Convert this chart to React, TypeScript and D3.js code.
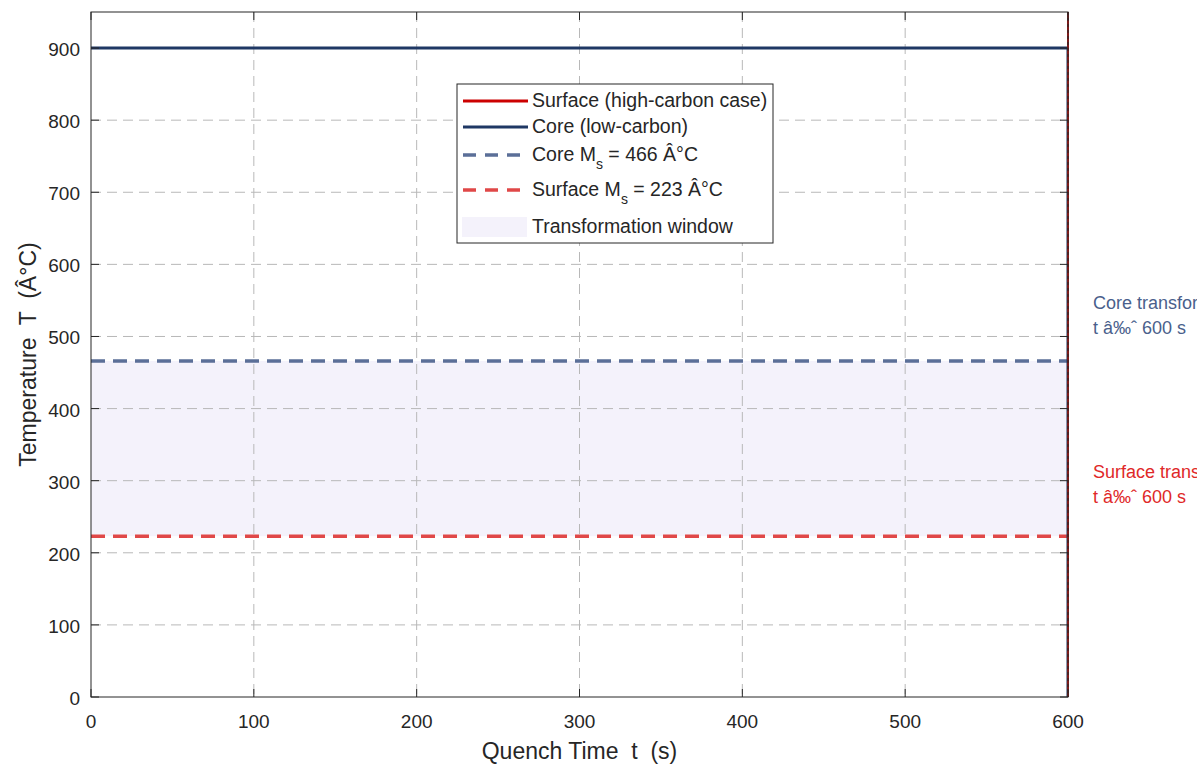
import React from "react";
import * as d3 from "d3";

const timeDomain = [0, 600];
const tempDomain = [0, 950];
const xTicks = [0, 100, 200, 300, 400, 500, 600];
const yTicks = [0, 100, 200, 300, 400, 500, 600, 700, 800, 900];

const surfaceT = [0, 600, 600, 600];
const surfaceTemp = [900, 900, 950, 0];
const coreT = [0, 600, 600];
const coreTemp = [900, 900, 0];

const coreMs = 466;
const surfaceMs = 223;

const legendLabels = [
  "Surface (high-carbon case)",
  "Core (low-carbon)",
  "Core M",
  "Surface M",
  "Transformation window",
];

const W = 1197;
const H = 764;
const M = { left: 91, right: 1068, top: 12, bottom: 697 };

export default function App() {
  const x = d3.scaleLinear().domain(timeDomain).range([M.left, M.right]);
  const y = d3.scaleLinear().domain(tempDomain).range([M.bottom, M.top]);
  const line = d3
    .line<[number, number]>()
    .x((d) => x(d[0]))
    .y((d) => y(d[1]));
  const surfacePts = surfaceT.map((t, i) => [t, surfaceTemp[i]] as [number, number]);
  const corePts = coreT.map((t, i) => [t, coreTemp[i]] as [number, number]);
  const font = "'Liberation Sans', Arial, Helvetica, sans-serif";
  const tickColor = "#262626";
  const grid = "#b8b8b8";
  const coreMsColor = "#5b6f98";
  const surfMsColor = "#e04848";
  const lx = 463;
  const legendRows = [101, 127, 155, 190, 227];

  return (
    <div style={{ position: "absolute", left: 0, top: 0 }}>
      <svg width={W} height={H} style={{ display: "block", fontFamily: font }}>
        <rect x={0} y={0} width={W} height={H} fill="#ffffff" />
        <defs>
          <clipPath id="plot">
            <rect x={M.left} y={M.top} width={M.right - M.left} height={M.bottom - M.top} />
          </clipPath>
        </defs>
        {/* transformation window */}
        <rect
          x={x(0)}
          y={y(coreMs)}
          width={x(600) - x(0)}
          height={y(surfaceMs) - y(coreMs)}
          fill="#f4f2fb"
        />
        {/* grid */}
        {xTicks.slice(1, -1).map((t) => (
          <line key={"gx" + t} x1={x(t)} x2={x(t)} y1={M.top} y2={M.bottom} stroke={grid} strokeWidth={1} strokeDasharray="10,6" />
        ))}
        {yTicks.slice(1).map((t) => (
          <line key={"gy" + t} x1={M.left} x2={M.right} y1={y(t)} y2={y(t)} stroke={grid} strokeWidth={1} strokeDasharray="10,6" />
        ))}
        {/* Ms lines */}
        <line x1={x(0)} x2={x(600)} y1={y(coreMs)} y2={y(coreMs)} stroke={coreMsColor} strokeWidth={3.5} strokeDasharray="14,8" />
        <line x1={x(0)} x2={x(600)} y1={y(surfaceMs)} y2={y(surfaceMs)} stroke={surfMsColor} strokeWidth={3.5} strokeDasharray="14,8" />
        {/* series */}
        <g clipPath="url(#plot)">
          <path d={line(surfacePts) || ""} fill="none" stroke="#cc0000" strokeWidth={2} />
          <path d={line(corePts) || ""} fill="none" stroke="#1f3864" strokeWidth={3} />
        </g>
        <line x1={M.right} x2={M.right} y1={M.top} y2={M.bottom} stroke="#d01010" strokeWidth={2} />
        {/* axes box */}
        <rect x={M.left} y={M.top} width={M.right - M.left} height={M.bottom - M.top} fill="none" stroke="#262626" strokeWidth={1} />
        <line x1={M.right} x2={M.right} y1={M.top} y2={M.bottom} stroke="#262626" strokeWidth={1} strokeDasharray="3,3" />
        {/* ticks */}
        {xTicks.map((t) => (
          <g key={"xt" + t}>
            <line x1={x(t)} x2={x(t)} y1={M.bottom} y2={M.bottom - 8} stroke="#262626" />
            <line x1={x(t)} x2={x(t)} y1={M.top} y2={M.top + 8} stroke="#262626" />
            <text x={x(t)} y={728} textAnchor="middle" fontSize={19} fill={tickColor}>
              {t}
            </text>
          </g>
        ))}
        {yTicks.map((t) => (
          <g key={"yt" + t}>
            <line x1={M.left} x2={M.left + 8} y1={y(t)} y2={y(t)} stroke="#262626" />
            <line x1={M.right} x2={M.right - 8} y1={y(t)} y2={y(t)} stroke="#262626" />
            <text x={80} y={y(t) + 8} textAnchor="end" fontSize={19} fill={tickColor}>
              {t}
            </text>
          </g>
        ))}
        {/* axis labels */}
        <text x={(M.left + M.right) / 2} y={759} textAnchor="middle" fontSize={23} fill={tickColor} style={{ whiteSpace: "pre" }}>
          {"Quench Time  t  (s)"}
        </text>
        <text
          transform={`translate(36, ${(M.top + M.bottom) / 2}) rotate(-90)`}
          textAnchor="middle"
          fontSize={23}
          fill={tickColor}
          style={{ whiteSpace: "pre" }}
        >
          {"Temperature  T  (Â°C)"}
        </text>
        {/* annotations */}
        <text x={1093} y={309} fontSize={18} fill="#4a5f8c">Core transformation complete</text>
        <text x={1093} y={334} fontSize={18} fill="#4a5f8c">t â‰ˆ 600 s</text>
        <text x={1093} y={478} fontSize={18} fill="#e02828">Surface transformation complete</text>
        <text x={1093} y={503} fontSize={18} fill="#e02828">t â‰ˆ 600 s</text>
        {/* legend */}
        <rect x={457} y={84} width={316} height={159} fill="#ffffff" stroke="#262626" strokeWidth={1} />
        <line x1={lx} x2={lx + 65} y1={legendRows[0]} y2={legendRows[0]} stroke="#cc0000" strokeWidth={3} />
        <line x1={lx} x2={lx + 65} y1={legendRows[1]} y2={legendRows[1]} stroke="#1f3864" strokeWidth={3} />
        <line x1={lx} x2={lx + 65} y1={legendRows[2]} y2={legendRows[2]} stroke={coreMsColor} strokeWidth={3.5} strokeDasharray="13,9" />
        <line x1={lx} x2={lx + 65} y1={legendRows[3]} y2={legendRows[3]} stroke={surfMsColor} strokeWidth={3.5} strokeDasharray="13,9" />
        <rect x={lx - 1} y={legendRows[4] - 10} width={65} height={20} fill="#f4f2fb" />
        <g fontSize={19.5} fill={tickColor}>
          <text x={532} y={legendRows[0] + 6}>{legendLabels[0]}</text>
          <text x={532} y={legendRows[1] + 6}>{legendLabels[1]}</text>
          <text x={532} y={legendRows[2] + 6}>
            {legendLabels[2]}<tspan fontSize={14} dy={8}>s</tspan>
            <tspan dy={-8}> = 466 Â°C</tspan>
          </text>
          <text x={532} y={legendRows[3] + 6}>
            {legendLabels[3]}<tspan fontSize={14} dy={8}>s</tspan>
            <tspan dy={-8}> = 223 Â°C</tspan>
          </text>
          <text x={532} y={legendRows[4] + 6}>{legendLabels[4]}</text>
        </g>
      </svg>
    </div>
  );
}
